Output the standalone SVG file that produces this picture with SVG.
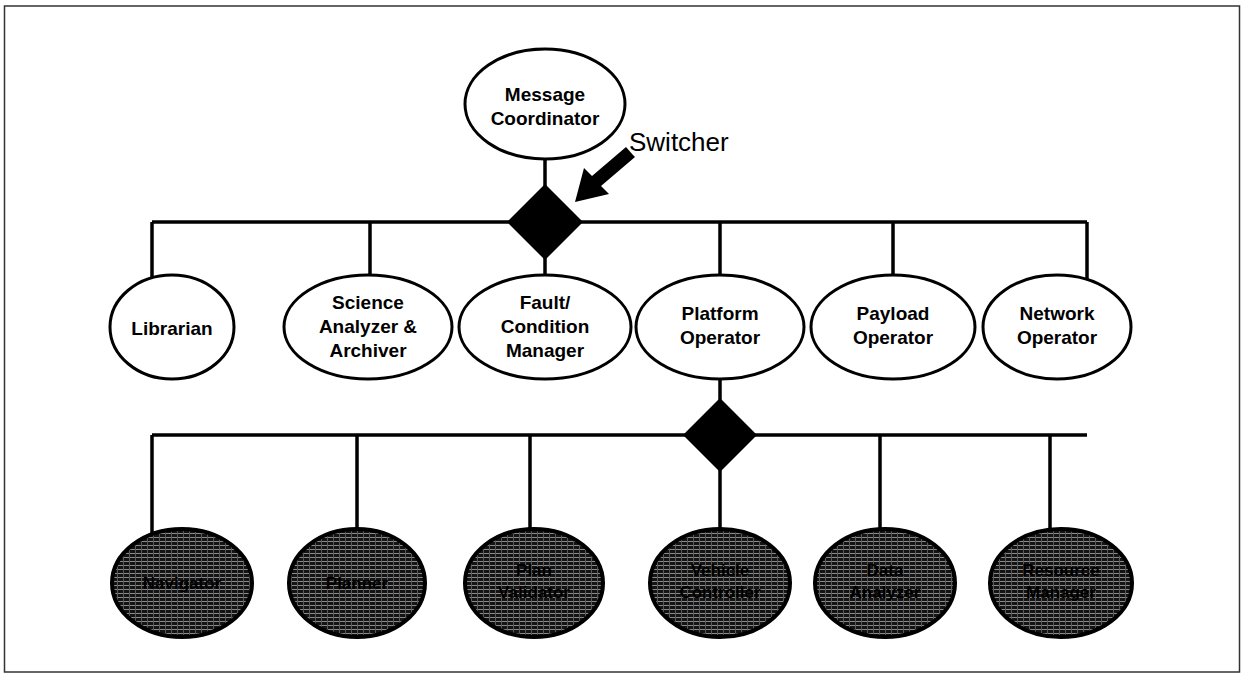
<svg xmlns="http://www.w3.org/2000/svg" width="1245" height="677" viewBox="0 0 1245 677">
<style>
.frame{fill:#fff;stroke:#333;stroke-width:1.5}
.node{fill:#fff;stroke:#000;stroke-width:3}
.dark{fill:url(#hatch);stroke:#000;stroke-width:4}
.line{stroke:#000;stroke-width:3.5;fill:none}
.sw{fill:#000}
.lbl{font-family:"Liberation Sans",Arial,sans-serif;font-weight:bold;font-size:19px;fill:#000;text-anchor:middle}
.dlbl{font-family:"Liberation Sans",Arial,sans-serif;font-weight:bold;font-size:17px;fill:#000;text-anchor:middle}
.sl{font-family:"Liberation Sans",Arial,sans-serif;font-size:26px;fill:#000}
</style>
<defs>
<pattern id="hatch" width="6" height="4" patternUnits="userSpaceOnUse">
<rect width="6" height="4" fill="#141414"/>
<rect y="1" width="6" height="1" fill="#8a8a8a"/>
<rect x="3" width="1" height="4" fill="#5a5a5a"/>
</pattern>
</defs>
<rect class="frame" x="4.5" y="6" width="1235" height="666"/>
<g id="connectors">
<line class="line" x1="545" y1="158" x2="545" y2="190"/>
<line class="line" x1="152" y1="222" x2="1087" y2="222"/>
<line class="line" x1="152" y1="222" x2="152" y2="292"/>
<line class="line" x1="370" y1="222" x2="370" y2="277"/>
<line class="line" x1="545" y1="222" x2="545" y2="276"/>
<line class="line" x1="720" y1="222" x2="720" y2="276"/>
<line class="line" x1="893" y1="222" x2="893" y2="276"/>
<line class="line" x1="1087" y1="222" x2="1087" y2="285"/>
<line class="line" x1="720" y1="378" x2="720" y2="402"/>
<line class="line" x1="152" y1="435" x2="1087" y2="435"/>
<line class="line" x1="152" y1="435" x2="152" y2="545"/>
<line class="line" x1="357" y1="435" x2="357" y2="528"/>
<line class="line" x1="530" y1="435" x2="530" y2="528"/>
<line class="line" x1="720" y1="435" x2="720" y2="528"/>
<line class="line" x1="880" y1="435" x2="880" y2="528"/>
<line class="line" x1="1050" y1="435" x2="1050" y2="530"/>
</g>
<g id="switcher1"><polygon class="sw" points="545,184 583,222 545,260 507,222"/></g>
<g id="switcher2"><polygon class="sw" points="720,398 757,435 720,472 683,435"/></g>
<g id="switcher-label">
<text class="sl" x="629" y="151">Switcher</text>
<polygon class="sw" points="633,155 626,147 592,176 584,168 575,202 609,194 601,186 635,157"/>
</g>
<g id="message-coordinator">
<ellipse class="node" cx="545" cy="104" rx="80" ry="55"/>
<text class="lbl" x="545" y="101">Message</text>
<text class="lbl" x="545" y="125">Coordinator</text>
</g>
<g id="librarian">
<ellipse class="node" cx="172" cy="327" rx="62" ry="52"/>
<text class="lbl" x="172" y="335">Librarian</text>
</g>
<g id="science-analyzer">
<ellipse class="node" cx="368" cy="327" rx="84" ry="52"/>
<text class="lbl" x="368" y="309">Science</text>
<text class="lbl" x="368" y="333">Analyzer &amp;</text>
<text class="lbl" x="368" y="357">Archiver</text>
</g>
<g id="fault-condition-manager">
<ellipse class="node" cx="545" cy="327" rx="86" ry="52"/>
<text class="lbl" x="545" y="309">Fault/</text>
<text class="lbl" x="545" y="333">Condition</text>
<text class="lbl" x="545" y="357">Manager</text>
</g>
<g id="platform-operator">
<ellipse class="node" cx="720" cy="327" rx="84" ry="52"/>
<text class="lbl" x="720" y="320">Platform</text>
<text class="lbl" x="720" y="344">Operator</text>
</g>
<g id="payload-operator">
<ellipse class="node" cx="893" cy="327" rx="82" ry="52"/>
<text class="lbl" x="893" y="320">Payload</text>
<text class="lbl" x="893" y="344">Operator</text>
</g>
<g id="network-operator">
<ellipse class="node" cx="1057" cy="327" rx="74" ry="52"/>
<text class="lbl" x="1057" y="320">Network</text>
<text class="lbl" x="1057" y="344">Operator</text>
</g>
<g id="sub1">
<ellipse class="dark" cx="182" cy="583" rx="70" ry="54"/>
<text class="dlbl" x="182" y="589">Navigator</text>
</g>
<g id="sub2">
<ellipse class="dark" cx="357" cy="583" rx="68" ry="54"/>
<text class="dlbl" x="357" y="589">Planner</text>
</g>
<g id="sub3">
<ellipse class="dark" cx="534" cy="583" rx="69" ry="54"/>
<text class="dlbl" x="534" y="576">Plan</text>
<text class="dlbl" x="534" y="598">Validator</text>
</g>
<g id="sub4">
<ellipse class="dark" cx="720" cy="583" rx="70" ry="54"/>
<text class="dlbl" x="720" y="576">Vehicle</text>
<text class="dlbl" x="720" y="598">Controller</text>
</g>
<g id="sub5">
<ellipse class="dark" cx="885" cy="583" rx="70" ry="54"/>
<text class="dlbl" x="885" y="576">Data</text>
<text class="dlbl" x="885" y="598">Analyzer</text>
</g>
<g id="sub6">
<ellipse class="dark" cx="1061" cy="583" rx="71" ry="54"/>
<text class="dlbl" x="1061" y="576">Resource</text>
<text class="dlbl" x="1061" y="598">Manager</text>
</g>
</svg>
